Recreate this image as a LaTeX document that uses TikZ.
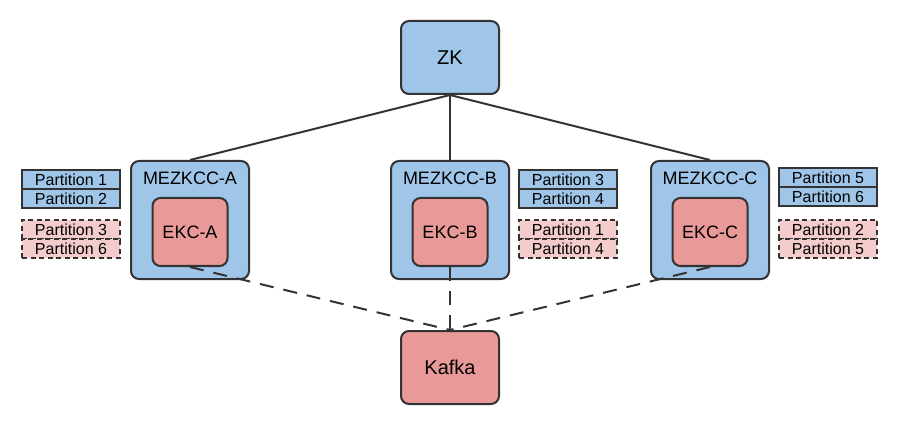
\documentclass[tikz,border=0pt]{standalone}
\usepackage{fontspec}
\setmainfont{Liberation Sans}
\usetikzlibrary{positioning}
\definecolor{boxblue}{HTML}{9FC5E8}
\definecolor{boxred}{HTML}{EA9999}
\definecolor{boxpink}{HTML}{F4CCCC}
\definecolor{edge}{HTML}{333333}

\begin{document}
\begin{tikzpicture}[
    node distance=10pt,
    top/.style={draw=edge, line width=2pt, rounded corners=8pt, minimum width=98pt, minimum height=73pt, font=\fontsize{20}{24}\selectfont},
    host/.style={draw=edge, line width=2pt, rounded corners=8pt, fill=boxblue, minimum width=118pt, minimum height=118pt},
    hostname/.style={font=\fontsize{18}{20}\selectfont, anchor=north, yshift=-8.5pt},
    ekc/.style={draw=edge, line width=2pt, rounded corners=8pt, fill=boxred, minimum width=75pt, minimum height=68pt, font=\fontsize{18}{20}\selectfont},
    part/.style={draw=edge, line width=2pt, fill=boxblue, minimum width=98pt, minimum height=19pt, inner sep=0pt, font=\fontsize{16}{18}\selectfont},
    spare/.style={part, fill=boxpink, dash pattern=on 5pt off 3.5pt},
    link/.style={draw=edge, line width=2pt},
    dlink/.style={link, dash pattern=on 14pt off 10pt}
]
    \useasboundingbox (0,0) rectangle (906pt,-425pt);

    % Nodes
    \node[top, fill=boxblue] (zk) at (450pt,-57.5pt) {ZK};

    \node[host, below=65pt of zk, label={[hostname]north:MEZKCC-B}] (mb) {};
    \node[host, left=140pt of mb, label={[hostname]north:MEZKCC-A}] (ma) {};
    \node[host, right=140pt of mb, label={[hostname]north:MEZKCC-C}] (mc) {};

    \node[ekc, below=37pt of ma.north] (ea) {EKC-A};
    \node[ekc, below=37pt of mb.north] (eb) {EKC-B};
    \node[ekc, below=37pt of mc.north] (ec) {EKC-C};

    \node[top, fill=boxred, below=235pt of zk] (kafka) {Kafka};

    % Partitions
    \node[part, below left=9pt and 9pt of ma.north west] (pa1) {Partition 1};
    \node[part, below=-2pt of pa1] (pa2) {Partition 2};
    \node[spare, below=10pt of pa2] (pa3) {Partition 3};
    \node[spare, below=-2pt of pa3] (pa4) {Partition 6};

    \node[part, below right=9pt and 8pt of mb.north east] (pb1) {Partition 3};
    \node[part, below=-2pt of pb1] (pb2) {Partition 4};
    \node[spare, below=10pt of pb2] (pb3) {Partition 1};
    \node[spare, below=-2pt of pb3] (pb4) {Partition 4};

    \node[part, below right=7pt and 8pt of mc.north east] (pc1) {Partition 5};
    \node[part, below=-2pt of pc1] (pc2) {Partition 6};
    \node[spare, below=12pt of pc2] (pc3) {Partition 2};
    \node[spare, below=-2pt of pc3] (pc4) {Partition 5};

    % Connections
    \path[link] (zk.south) -- (ma.north);
    \path[link] (zk.south) -- (mb.north);
    \path[link] (zk.south) -- (mc.north);

    \path[dlink] (ea.south) -- (kafka.north);
    \path[dlink] (eb.south) -- (kafka.north);
    \path[dlink] (ec.south) -- (kafka.north);

\end{tikzpicture}
\end{document}
